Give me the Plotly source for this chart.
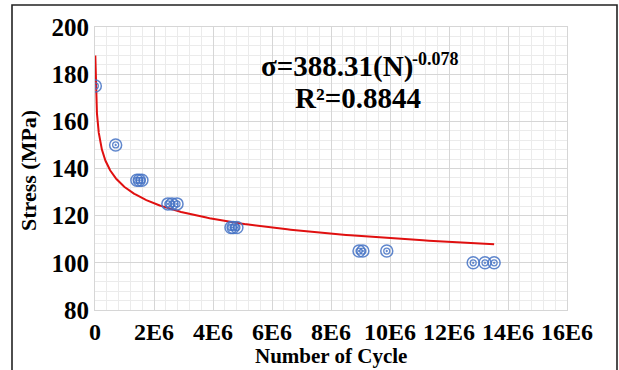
import numpy as np
import plotly.graph_objects as go

# Fatigue test results: number of cycles to failure and applied stress
cycles = [1.1e4, 0.70e6, 1.42e6, 1.50e6, 1.59e6, 2.47e6, 2.61e6, 2.78e6,
          4.61e6, 4.68e6, 4.81e6, 8.95e6, 9.08e6, 9.89e6, 12.82e6, 13.22e6, 13.53e6]
stress = [175, 150, 135, 135, 135, 125, 125, 125,
          115, 115, 115, 105, 105, 105, 100, 100, 100]

# Power-law (Basquin) fit reported on the chart
fit_coef = 388.31
fit_exp = -0.078
fit_r2 = 0.8844

x_ticks = [0, 2e6, 4e6, 6e6, 8e6, 10e6, 12e6, 14e6, 16e6]
x_tick_text = ["0", "2E6", "4E6", "6E6", "8E6", "10E6", "12E6", "14E6", "16E6"]
y_ticks = [80, 100, 120, 140, 160, 180, 200]

W, H = 619, 370
L, R, T, B = 95, 52, 27, 60
PW, PH = W - L - R, H - T - B


def px(x):
    return (x - L) / PW


def py(y):
    return (H - B - y) / PH


serif = "Liberation Serif"
blue = "rgba(68,114,196,0.85)"

n_fit = np.geomspace(min(cycles), max(cycles), 400)
s_fit = fit_coef * n_fit ** fit_exp

fig = go.Figure()
fig.add_trace(go.Scatter(
    x=n_fit, y=s_fit, mode="lines",
    line=dict(color="#E01010", width=2), hoverinfo="skip", showlegend=False))
fig.add_trace(go.Scatter(
    x=cycles, y=stress, mode="markers",
    marker=dict(symbol="circle-open", size=12, color=blue,
                line=dict(color=blue, width=1.5)),
    showlegend=False))
fig.add_trace(go.Scatter(
    x=cycles, y=stress, mode="markers",
    marker=dict(symbol="circle-open-dot", size=6, color=blue,
                line=dict(color=blue, width=1.3)),
    showlegend=False))

fig.update_xaxes(
    range=[0, 16e6], tickvals=x_ticks,
    ticktext=[f"<b>{t}</b>" for t in x_tick_text],
    tickfont=dict(family=serif, size=24, color="black"),
    showgrid=True, gridcolor="#d6d6d6", gridwidth=1.2, zeroline=False,
    showline=True, linecolor="#d6d6d6", linewidth=1.2, mirror=True, ticks="",
    minor=dict(dtick=0.4e6, showgrid=True, gridcolor="#ebebeb", gridwidth=1))
fig.update_yaxes(
    range=[80, 200], tickvals=y_ticks,
    ticktext=[f"<b>{t}</b>" for t in y_ticks],
    tickfont=dict(family=serif, size=25, color="black"),
    showgrid=True, gridcolor="#d6d6d6", gridwidth=1.2, zeroline=False,
    showline=True, linecolor="#d6d6d6", linewidth=1.2, mirror=True, ticks="",
    minor=dict(dtick=4, showgrid=True, gridcolor="#ebebeb", gridwidth=1))

shapes = [
    # white panel behind the fit equation
    dict(type="rect", xref="paper", yref="paper",
         x0=px(247), x1=px(470), y0=py(117), y1=py(43),
         fillcolor="white", line=dict(width=0), layer="between"),
    # outer frame
    dict(type="rect", xref="paper", yref="paper",
         x0=px(12), x1=px(617), y0=py(378), y1=py(5),
         fillcolor="rgba(0,0,0,0)", line=dict(color="#222222", width=1.6)),
]

title_font = dict(family=serif, size=21, color="black")
y_title_font = dict(family=serif, size=22, color="black")
eq_font = dict(family=serif, size=29, color="black")
sup_font = dict(family=serif, size=18, color="black")
annotations = [
    dict(text="<b>Number of Cycle</b>", xref="paper", yref="paper",
         x=px(331), y=py(356), showarrow=False, font=title_font,
         xanchor="center", yanchor="middle"),
    dict(text="<b>Stress (MPa)</b>", xref="paper", yref="paper",
         x=px(28), y=py(171), showarrow=False, font=y_title_font, textangle=-90,
         xanchor="center", yanchor="middle"),
    # fit equation: base and exponent
    dict(text=f"<b>σ={fit_coef:.2f}(N)</b>", xref="paper", yref="paper",
         x=px(415), y=py(66), showarrow=False, font=eq_font,
         xanchor="right", yanchor="middle"),
    dict(text=f"<b>{fit_exp}</b>", xref="paper", yref="paper",
         x=px(410), y=py(59), showarrow=False, font=sup_font,
         xanchor="left", yanchor="middle"),
    dict(text=f"<b>R²={fit_r2:.4f}</b>", xref="paper", yref="paper",
         x=px(358), y=py(98), showarrow=False, font=eq_font,
         xanchor="center", yanchor="middle"),
]

fig.update_layout(
    width=W, height=H, margin=dict(l=L, r=R, t=T, b=B),
    paper_bgcolor="white", plot_bgcolor="white",
    shapes=shapes, annotations=annotations, showlegend=False)

fig.write_html("out.html")
